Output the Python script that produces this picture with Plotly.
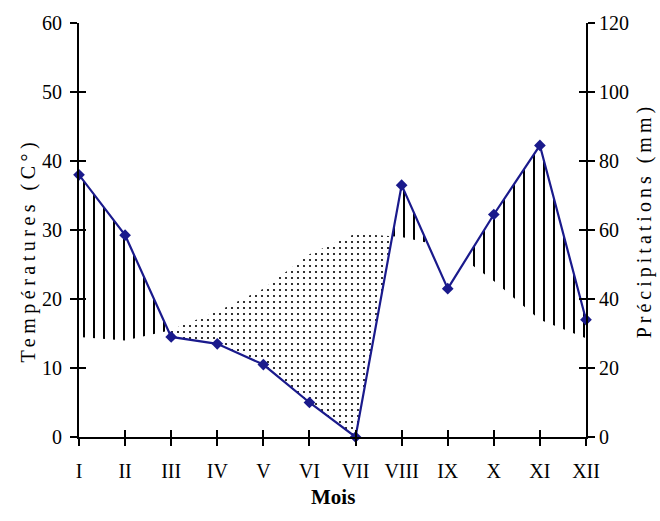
import numpy as np
import plotly.graph_objects as go

# ---- data ----
months = ['I', 'II', 'III', 'IV', 'V', 'VI', 'VII', 'VIII', 'IX', 'X', 'XI', 'XII']
precip_mm = [76, 58.5, 29, 27, 21, 10, 0, 73, 43, 64.5, 84.5, 34]          # right axis (mm)
temp_c = [14.5, 14, 15.5, 18.2, 21.5, 26.5, 29.5, 29, 27.5, 22.6, 17, 14.3]  # left axis (°C)
temp_ticks = list(range(0, 61, 10))
precip_ticks = list(range(0, 121, 20))

FONT = 'Liberation Serif, Times New Roman, serif'
LINE_COL = '#1a1a8c'

x = np.arange(len(months), dtype=float)
p_t = np.array(precip_mm) / 2.0   # P = 2T scale (Gaussen)
t = np.array(temp_c, dtype=float)

# insert crossing points between the two curves
xs, ps, ts = [x[0]], [p_t[0]], [t[0]]
for i in range(len(x) - 1):
    d0, d1 = p_t[i] - t[i], p_t[i + 1] - t[i + 1]
    if d0 * d1 < 0:
        f = d0 / (d0 - d1)
        yc = t[i] + f * (t[i + 1] - t[i])
        xs.append(x[i] + f); ps.append(yc); ts.append(yc)
    xs.append(x[i + 1]); ps.append(p_t[i + 1]); ts.append(t[i + 1])
xs, ps, ts = np.array(xs), np.array(ps), np.array(ts)
diff = ps - ts

# split into humid / dry segments
segments = []
start = 0
cur = np.sign(diff[0] + diff[1])
for k in range(1, len(xs) - 1):
    s = np.sign(diff[k] + diff[k + 1])
    if s != cur:
        segments.append((start, k, cur))
        start, cur = k, s
segments.append((start, len(xs) - 1, cur))

fig = go.Figure()

for a, b, s in segments:
    span = xs[b] - xs[a]
    if s > 0:
        pat = dict(shape='|', fgcolor='#000000', fgopacity=1, bgcolor='rgba(255,255,255,0)',
                   size=10, solidity=0.2, fillmode='replace')
    else:
        if span < 1.5:   # only the main dry season is dotted in the reference
            continue
        pat = dict(shape='.', fgcolor='#000000', fgopacity=1, bgcolor='rgba(255,255,255,0)',
                   size=6, solidity=0.1, fillmode='replace')
    px = np.concatenate([xs[a:b + 1], xs[a:b + 1][::-1]])
    py = np.concatenate([ps[a:b + 1], ts[a:b + 1][::-1]])
    fig.add_trace(go.Scatter(x=px, y=py, mode='lines', fill='toself',
                             fillcolor='#000000', fillpattern=pat,
                             line=dict(width=0), hoverinfo='skip', showlegend=False))

fig.add_trace(go.Scatter(x=x, y=precip_mm, yaxis='y2', mode='lines+markers',
                         line=dict(color=LINE_COL, width=2.2),
                         marker=dict(symbol='diamond', size=9, color=LINE_COL),
                         cliponaxis=False, showlegend=False, name='Précipitations'))

# dummy traces for the inner halves of the cross ticks
fig.add_trace(go.Scatter(x=[None], y=[None], xaxis='x2', yaxis='y3', showlegend=False))
fig.add_trace(go.Scatter(x=[None], y=[None], xaxis='x', yaxis='y4', showlegend=False))

tickfont = dict(family=FONT, size=20, color='black')
common = dict(showgrid=False, zeroline=False, ticks='outside', ticklen=7, tickwidth=2,
              tickcolor='black', tickfont=tickfont)

fig.update_layout(
    width=660, height=521,
    margin=dict(l=79, r=74, t=20, b=84),
    paper_bgcolor='white', plot_bgcolor='white',
    xaxis=dict(range=[0, 11], tickvals=x, ticktext=months, showline=True, linewidth=2,
               linecolor='black', ticklabelstandoff=8, **common),
    yaxis=dict(range=[0, 60], tickvals=temp_ticks, showline=True, linewidth=2,
               linecolor='black', ticklabelstandoff=4, **common),
    yaxis2=dict(range=[0, 120], tickvals=precip_ticks, overlaying='y', side='right',
                anchor='x', showline=True, linewidth=2, linecolor='black',
                ticklabelstandoff=0, **common),
    xaxis2=dict(range=[0, 11], tickvals=x, overlaying='x', anchor='y', side='bottom',
                showgrid=False, zeroline=False, ticks='inside', ticklen=7, tickwidth=2,
                tickcolor='black', showticklabels=False, showline=False),
    yaxis3=dict(range=[0, 60], tickvals=temp_ticks, overlaying='y', anchor='x', side='left',
                showgrid=False, zeroline=False, ticks='inside', ticklen=7, tickwidth=2,
                tickcolor='black', showticklabels=False, showline=False),
    yaxis4=dict(range=[0, 120], tickvals=precip_ticks, overlaying='y', anchor='x', side='right',
                showgrid=False, zeroline=False, ticks='inside', ticklen=7, tickwidth=2,
                tickcolor='black', showticklabels=False, showline=False),
    annotations=[
        dict(text='<span style="letter-spacing:4.5px">Températures (C°)</span>',
             xref='paper', yref='paper', x=-0.1006, y=0.453, textangle=-90,
             xanchor='center', yanchor='middle', showarrow=False,
             font=dict(family=FONT, size=20, color='black')),
        dict(text='<span style="letter-spacing:4px">Précipitations (mm)</span>',
             xref='paper', yref='paper', x=1.116, y=0.523, textangle=-90,
             xanchor='center', yanchor='middle', showarrow=False,
             font=dict(family=FONT, size=20, color='black')),
        dict(text='<b>Mois</b>', xref='paper', yref='paper', x=0.5, y=-0.144,
             xanchor='center', yanchor='middle', showarrow=False,
             font=dict(family=FONT, size=21, color='black')),
    ],
)

fig.write_html('out.html')
